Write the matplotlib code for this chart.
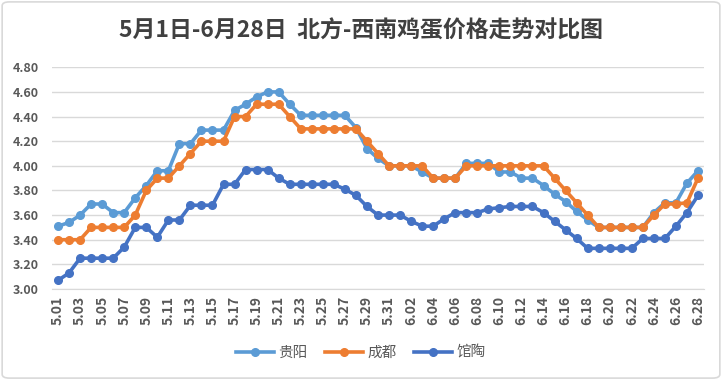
import matplotlib
matplotlib.use("Agg")
import matplotlib.pyplot as plt
from matplotlib.patches import FancyBboxPatch

plt.rcParams['font.family'] = ['Noto Sans CJK SC', 'DejaVu Sans']

# dates 5.01 - 6.28
dates = ['5.%02d' % d for d in range(1, 32)] + ['6.%02d' % d for d in range(1, 29)]

guiyang = [3.51, 3.54, 3.60, 3.69, 3.69, 3.62, 3.62, 3.74, 3.84, 3.96,
           3.96, 4.18, 4.18, 4.29, 4.29, 4.29, 4.45, 4.50, 4.56, 4.60,
           4.60, 4.50, 4.41, 4.41, 4.41, 4.41, 4.41, 4.31, 4.14, 4.06,
           4.00, 4.00, 4.00, 3.95, 3.90, 3.90, 3.90, 4.02, 4.02, 4.02,
           3.95, 3.95, 3.90, 3.90, 3.84, 3.77, 3.71, 3.63, 3.56, 3.50,
           3.50, 3.50, 3.50, 3.50, 3.62, 3.70, 3.70, 3.86, 3.96]
chengdu = [3.40, 3.40, 3.40, 3.50, 3.50, 3.50, 3.50, 3.60, 3.80, 3.90,
           3.90, 4.00, 4.10, 4.20, 4.20, 4.20, 4.40, 4.40, 4.50, 4.50,
           4.50, 4.40, 4.30, 4.30, 4.30, 4.30, 4.30, 4.30, 4.20, 4.10,
           4.00, 4.00, 4.00, 4.00, 3.90, 3.90, 3.90, 4.00, 4.00, 4.00,
           4.00, 4.00, 4.00, 4.00, 4.00, 3.90, 3.80, 3.70, 3.60, 3.50,
           3.50, 3.50, 3.50, 3.50, 3.60, 3.69, 3.69, 3.70, 3.90]
guantao = [3.07, 3.13, 3.25, 3.25, 3.25, 3.25, 3.34, 3.50, 3.50, 3.42,
           3.56, 3.56, 3.68, 3.68, 3.68, 3.85, 3.85, 3.97, 3.97, 3.97,
           3.90, 3.85, 3.85, 3.85, 3.85, 3.85, 3.81, 3.76, 3.67, 3.60,
           3.60, 3.60, 3.55, 3.51, 3.51, 3.57, 3.62, 3.62, 3.62, 3.65,
           3.66, 3.67, 3.67, 3.67, 3.62, 3.55, 3.48, 3.41, 3.33, 3.33,
           3.33, 3.33, 3.33, 3.41, 3.41, 3.41, 3.51, 3.62, 3.76]

series = [('贵阳', guiyang, '#5B9BD5'),
          ('成都', chengdu, '#ED7D31'),
          ('馆陶', guantao, '#4472C4')]

fig = plt.figure(figsize=(7.22, 3.80), dpi=100)
ax = fig.add_axes([0.0727, 0.2395, 0.9017, 0.5834])

x = list(range(len(dates)))
for name, vals, col in series:
    ax.plot(x, vals, color=col, lw=2.6, marker='o', ms=5.5, label=name)

ax.set_xlim(-0.5, len(dates) - 0.5)
ax.set_ylim(3.0, 4.8)
ax.set_yticks([3.0 + 0.2 * i for i in range(10)])
ax.set_yticklabels(['%.2f' % (3.0 + 0.2 * i) for i in range(10)])
ax.set_xticks(x[::2])
ax.set_xticklabels(dates[::2], rotation=90)
ax.grid(axis='y', color='#d9d9d9', lw=1)
ax.set_axisbelow(True)
for s in ['top', 'right', 'left']:
    ax.spines[s].set_visible(False)
ax.spines['bottom'].set_color('#d9d9d9')
ax.tick_params(length=0, colors='#595959', labelsize=9)
ax.tick_params(axis='y', pad=10)
ax.tick_params(axis='x', labelsize=10, pad=5)
for lab in ax.get_xticklabels() + ax.get_yticklabels():
    lab.set_fontweight('bold')

fig.text(0.5, 0.918, '5月1日-6月28日  北方-西南鸡蛋价格走势对比图',
         ha='center', va='center', fontsize=16.5, fontweight='bold', color='#404040')

fig.legend(loc='center', bbox_to_anchor=(0.5, 0.072), ncol=3, frameon=False,
           fontsize=10.5, handlelength=2.6, columnspacing=1.2, handletextpad=0.3,
           labelcolor='#595959')

fig.patches.append(FancyBboxPatch((0.003, 0.005), 0.994, 0.99, boxstyle='round,pad=0,rounding_size=0.01',
                                  transform=fig.transFigure, fill=False, ec='#d9d9d9', lw=1.2))

fig.savefig('out.png', dpi=100)
